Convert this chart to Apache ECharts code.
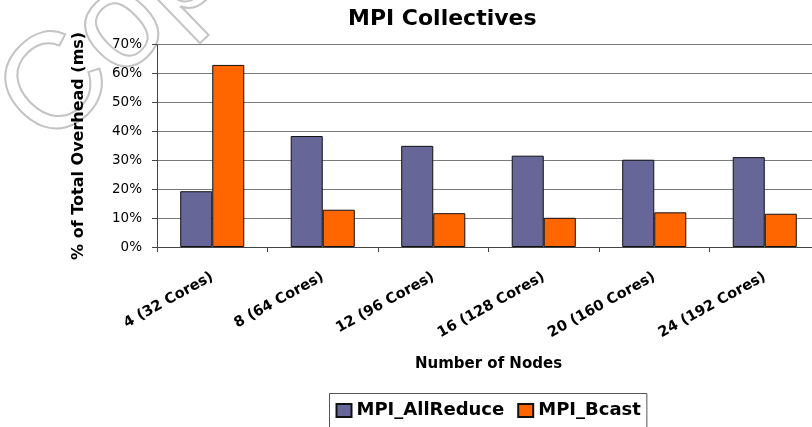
<!DOCTYPE html>
<html>
<head>
<meta charset="utf-8">
<script src="https://cdn.jsdelivr.net/npm/echarts@6/dist/echarts.min.js"></script>
<style>
  html, body { margin: 0; padding: 0; background: #fff; }
  #chart { width: 812px; height: 427px; }
</style>
</head>
<body>
<div id="chart"></div>
<script>
// Node counts (with core counts) on the category axis
const categories = ['4 (32 Cores)', '8 (64 Cores)', '12 (96 Cores)', '16 (128 Cores)', '20 (160 Cores)', '24 (192 Cores)'];
// Share of total overhead, in percent
const allReduce = [19.3, 38.4, 35.0, 31.6, 30.2, 31.1];
const bcast = [63.0, 12.9, 11.7, 10.1, 12.0, 11.5];
const seriesNames = ['MPI_AllReduce', 'MPI_Bcast'];
const yTicks = { min: 0, max: 70, interval: 10 };

const FONT = 'DejaVu Sans';
const chart = echarts.init(document.getElementById('chart'), null, { renderer: 'canvas' });

chart.setOption({
  backgroundColor: '#ffffff',
  animation: false,
  title: {
    text: 'MPI Collectives',
    left: 343,
    top: 3,
    textStyle: { fontFamily: FONT, fontSize: 22, fontWeight: 'bold', color: '#000' }
  },
  graphic: [{
    type: 'text',
    silent: true,
    z: -10,
    x: 70,
    y: 172,
    rotation: 44 * Math.PI / 180,
    style: {
      text: 'Copyright',
      fontFamily: 'Liberation Sans',
      fontSize: 136,
      fill: 'rgba(0,0,0,0)',
      stroke: '#c4c4c4',
      lineWidth: 2,
      align: 'left',
      verticalAlign: 'bottom'
    }
  }],
  legend: {
    data: seriesNames,
    left: 329.5,
    top: 393.5,
    orient: 'horizontal',
    icon: 'rect',
    itemWidth: 15,
    itemHeight: 13,
    itemGap: 13,
    padding: [8, 6, 12, 6],
    borderColor: '#555',
    borderWidth: 1,
    backgroundColor: '#fff',
    textStyle: { fontFamily: FONT, fontSize: 18, fontWeight: 'bold', color: '#000' }
  },
  grid: {
    left: 157,
    right: -8,
    top: 44.7,
    bottom: 180,
    containLabel: false,
    outerBoundsMode: 'none'
  },
  xAxis: {
    type: 'category',
    data: categories,
    boundaryGap: true,
    name: 'Number of Nodes',
    nameLocation: 'middle',
    nameGap: 110,
    nameMoveOverlap: false,
    nameTextStyle: { fontFamily: FONT, fontSize: 15, fontWeight: 'bold', color: '#000' },
    axisLine: { show: true, lineStyle: { color: '#444', width: 1 } },
    axisTick: { show: true, alignWithLabel: false, length: 5, lineStyle: { color: '#444' } },
    axisLabel: {
      interval: 0,
      rotate: 29,
      margin: 29,
      fontFamily: FONT,
      fontSize: 14.5,
      fontWeight: 'bold',
      color: '#000'
    },
    splitLine: { show: false }
  },
  yAxis: {
    type: 'value',
    min: yTicks.min,
    max: yTicks.max,
    interval: yTicks.interval,
    name: '% of Total Overhead (ms)',
    nameLocation: 'middle',
    nameGap: 70,
    nameMoveOverlap: false,
    nameTextStyle: { fontFamily: FONT, fontSize: 16, fontWeight: 'bold', color: '#000' },
    axisLine: { show: true, lineStyle: { color: '#444', width: 1 } },
    axisTick: { show: true, length: 5, lineStyle: { color: '#444' } },
    axisLabel: {
      formatter: '{value}%',
      margin: 15,
      fontFamily: FONT,
      fontSize: 13.5,
      color: '#000'
    },
    splitLine: { show: true, lineStyle: { color: '#7a7a7a', width: 1 } }
  },
  series: [
    {
      name: seriesNames[0],
      type: 'bar',
      data: allReduce,
      barGap: '0%',
      barCategoryGap: '42%',
      itemStyle: { color: '#666699', borderColor: '#111', borderWidth: 1 }
    },
    {
      name: seriesNames[1],
      type: 'bar',
      data: bcast,
      barGap: '0%',
      barCategoryGap: '42%',
      itemStyle: { color: '#ff6600', borderColor: '#111', borderWidth: 1 }
    }
  ]
});
</script>
</body>
</html>
